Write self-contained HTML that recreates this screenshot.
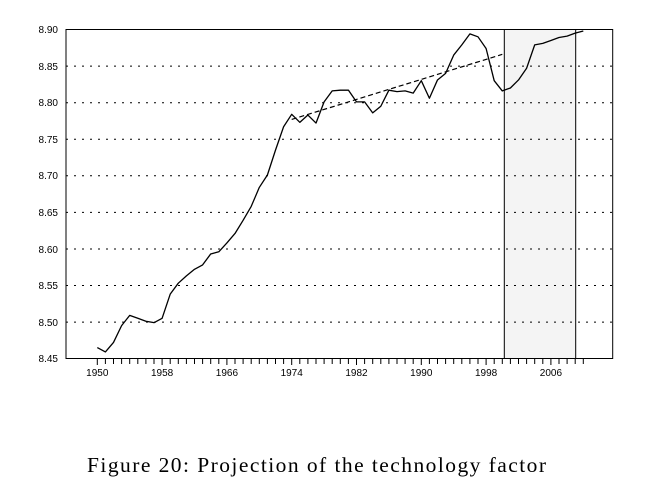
<!DOCTYPE html>
<html><head><style>
html,body{margin:0;padding:0;background:#fff;}
svg{display:block;}
</style></head><body>
<svg width="660" height="482" xmlns="http://www.w3.org/2000/svg">
<rect x="504.3" y="29.5" width="71.4" height="329" fill="#f4f4f4"/>
<g stroke="#000" stroke-width="1" stroke-dasharray="2,6">
<line x1="66" x2="612.7" y1="66.1" y2="66.1"/>
<line x1="66" x2="612.7" y1="102.7" y2="102.7"/>
<line x1="66" x2="612.7" y1="139.3" y2="139.3"/>
<line x1="66" x2="612.7" y1="175.8" y2="175.8"/>
<line x1="66" x2="612.7" y1="212.4" y2="212.4"/>
<line x1="66" x2="612.7" y1="249" y2="249"/>
<line x1="66" x2="612.7" y1="285.5" y2="285.5"/>
<line x1="66" x2="612.7" y1="322.1" y2="322.1"/>
</g>
<rect x="504.3" y="29.5" width="71.4" height="329" fill="none" stroke="#000" stroke-width="1"/>
<rect x="66" y="29.5" width="546.7" height="329" fill="none" stroke="#000" stroke-width="1"/>
<g transform="translate(97.3,29.5) scale(8.1,731.1)">
<polyline fill="none" stroke="#000" stroke-width="1.3" vector-effect="non-scaling-stroke" stroke-linejoin="round" points="0,.435 1,.441 2,.428 3,.405 4,.391 5,.395 6,.399 7,.401 8,.395 9,.362 10,.347 11,.337 12,.328 13,.322 14,.307 15,.304 16,.292 17,.279 18,.261 19,.242 20,.216 21,.199 22,.165 23,.133 24,.116 25,.127 26,.117 27,.128 28,.099 29,.084 30,.083 31,.083 32,.099 33,.099 34,.114 35,.105 36,.083 37,.085 38,.084 39,.087 40,.07 41,.094 42,.069 43,.06 44,.035 45,.021 46,.006 47,.01 48,.026 49,.07 50,.084 51,.08 52,.069 53,.053 54,.021 55,.019 56,.015 57,.011 58,.009 59,.005 60,.002"/>
<line x1="24" y1=".123" x2="50" y2=".034" stroke="#000" stroke-width="1.2" vector-effect="non-scaling-stroke" stroke-dasharray="5,3"/>
</g>
<g transform="translate(97.3,0) scale(8.1,1)" stroke="#000" stroke-width="1" vector-effect="non-scaling-stroke">
<path vector-effect="non-scaling-stroke" d="M0 358.5V365M1 358.5V364M2 358.5V364M3 358.5V364M4 358.5V364M5 358.5V364M6 358.5V364M7 358.5V364M8 358.5V365M9 358.5V364M10 358.5V364M11 358.5V364M12 358.5V364M13 358.5V364M14 358.5V364M15 358.5V364M16 358.5V365M17 358.5V364M18 358.5V364M19 358.5V364M20 358.5V364M21 358.5V364M22 358.5V364M23 358.5V364M24 358.5V365M25 358.5V364M26 358.5V364M27 358.5V364M28 358.5V364M29 358.5V364M30 358.5V364M31 358.5V364M32 358.5V365M33 358.5V364M34 358.5V364M35 358.5V364M36 358.5V364M37 358.5V364M38 358.5V364M39 358.5V364M40 358.5V365M41 358.5V364M42 358.5V364M43 358.5V364M44 358.5V364M45 358.5V364M46 358.5V364M47 358.5V364M48 358.5V365M49 358.5V364M50 358.5V364M51 358.5V364M52 358.5V364M53 358.5V364M54 358.5V364M55 358.5V364M56 358.5V365M57 358.5V364M58 358.5V364M59 358.5V364M60 358.5V364"/>
</g>
<g font-family="Liberation Sans, Arial, sans-serif" font-size="10" text-anchor="end" fill="#000">
<text x="58" y="33">8.90</text>
<text x="58" y="70">8.85</text>
<text x="58" y="106">8.80</text>
<text x="58" y="143">8.75</text>
<text x="58" y="179">8.70</text>
<text x="58" y="216">8.65</text>
<text x="58" y="253">8.60</text>
<text x="58" y="289">8.55</text>
<text x="58" y="326">8.50</text>
<text x="58" y="362">8.45</text>
</g>
<g font-family="Liberation Sans, Arial, sans-serif" font-size="10" text-anchor="middle" fill="#000">
<text x="97.3" y="376">1950</text>
<text x="162.1" y="376">1958</text>
<text x="226.9" y="376">1966</text>
<text x="291.7" y="376">1974</text>
<text x="356.5" y="376">1982</text>
<text x="421.3" y="376">1990</text>
<text x="486.1" y="376">1998</text>
<text x="550.9" y="376">2006</text>
</g>
<text x="87" y="472" font-family="Liberation Serif, serif" font-size="21.5" textLength="459" fill="#000">Figure 20: Projection of the technology factor</text>
</svg>
</body></html>
